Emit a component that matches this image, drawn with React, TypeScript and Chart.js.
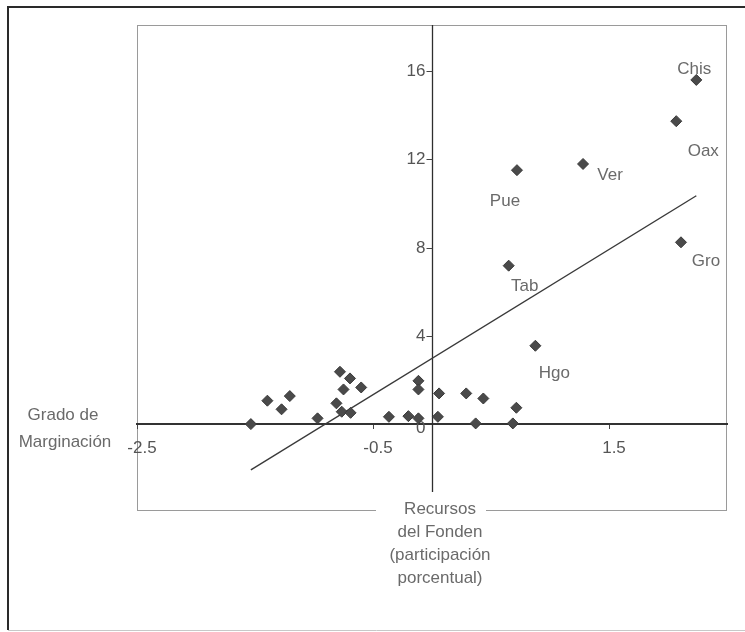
import React, { useEffect, useRef } from "react";
import { Chart, registerables } from "chart.js";

Chart.register(...registerables);

// ---- data ----
const stateNames = [
  "Chis", "Oax", "Gro", "Ver", "Pue", "Tab", "Hgo",
  "", "", "", "", "", "", "", "", "", "", "", "", "", "", "", "", "", "", "", "", "", "", "", "", "",
];
const marginacion = [
  2.24, 2.07, 2.11, 1.28, 0.72, 0.65, 0.876,
  -1.535, -1.395, -1.275, -1.205, -0.97, -0.81, -0.78, -0.695, -0.75, -0.60, -0.765, -0.69,
  -0.365, -0.20, -0.115, -0.115, -0.115, 0.06, 0.05, 0.29, 0.435, 0.37, 0.685, 0.715,
];
const recursos = [
  15.6, 13.73, 8.24, 11.79, 11.51, 7.18, 3.55,
  0.0, 1.06, 0.67, 1.27, 0.26, 0.94, 2.37, 2.07, 1.57, 1.66, 0.56, 0.51,
  0.33, 0.36, 1.96, 1.57, 0.26, 1.39, 0.33, 1.39, 1.16, 0.03, 0.03, 0.74,
];
const trendX = [-1.535, 2.24];
const trendY = [-2.08, 10.35];
const xTicks = [-2.5, -0.5, 1.5];
const yTicks = [0, 4, 8, 12, 16];
const xTitle = ["Grado de", "Marginación"];
const yTitle = ["Recursos", "del Fonden", "(participación", "porcentual)"];

// label placement offsets (px) relative to the point
const labelOffsets: Record<string, [number, number]> = {
  Chis: [-2, -11],
  Oax: [27, 30],
  Gro: [25, 19],
  Ver: [27, 11],
  Pue: [-12, 31],
  Tab: [16, 21],
  Hgo: [19, 28],
};

const FONT = "'Liberation Sans', Arial, sans-serif";

const decorPlugin = {
  id: "decor",
  beforeDraw(chart: any) {
    const { ctx, chartArea: a } = chart;
    ctx.save();
    ctx.fillStyle = "#ffffff";
    ctx.fillRect(0, 0, chart.width, chart.height);
    // outer frame
    ctx.strokeStyle = "#2a2a2a";
    ctx.lineWidth = 2;
    ctx.beginPath();
    ctx.moveTo(chart.width, 7);
    ctx.lineTo(8, 7);
    ctx.lineTo(8, 630);
    ctx.stroke();
    ctx.strokeStyle = "#c8c8c8";
    ctx.lineWidth = 1;
    ctx.beginPath();
    ctx.moveTo(8, 630.5);
    ctx.lineTo(chart.width, 630.5);
    ctx.stroke();
    // plot box
    ctx.strokeStyle = "#9a9a9a";
    ctx.lineWidth = 1;
    ctx.strokeRect(a.left + 0.5, a.top + 0.5, a.right - a.left - 1, a.bottom - a.top - 1);
    ctx.restore();
  },
  beforeDatasetsDraw(chart: any) {
    const { ctx, chartArea: a, scales } = chart;
    const x0 = Math.round(scales.x.getPixelForValue(0)) + 0.5;
    const yEnd = scales.y.getPixelForValue(-3.08);
    ctx.save();
    ctx.strokeStyle = "#2e2e2e";
    ctx.lineWidth = 1.3;
    ctx.beginPath();
    ctx.moveTo(x0, a.top);
    ctx.lineTo(x0, yEnd);
    ctx.stroke();
    // y tick marks and labels
    ctx.strokeStyle = "#444";
    ctx.lineWidth = 1;
    ctx.font = `17px ${FONT}`;
    ctx.fillStyle = "#555555";
    ctx.textAlign = "right";
    ctx.textBaseline = "middle";
    yTicks.forEach((v) => {
      const py = Math.round(scales.y.getPixelForValue(v)) + 0.5;
      if (v !== 0) {
        ctx.beginPath();
        ctx.moveTo(x0 - 6, py);
        ctx.lineTo(x0, py);
        ctx.stroke();
        ctx.fillText(String(v), x0 - 7, py);
      } else {
        ctx.fillText(String(v), x0 - 7, py + 4);
      }
    });
    ctx.restore();
  },
  afterDraw(chart: any) {
    const { ctx, scales } = chart;
    ctx.save();
    ctx.font = `17px ${FONT}`;
    ctx.fillStyle = "#6a6a6a";
    ctx.textAlign = "center";
    ctx.textBaseline = "middle";
    stateNames.forEach((name, i) => {
      if (!name) return;
      const off = labelOffsets[name] || [0, 0];
      const px = scales.x.getPixelForValue(marginacion[i]);
      const py = scales.y.getPixelForValue(recursos[i]);
      ctx.fillText(name, px + off[0], py + off[1]);
    });
    // x-axis title (left)
    ctx.fillText(xTitle[0], 63, 415);
    ctx.fillText(xTitle[1], 65, 442);
    // y-axis title (bottom)
    ctx.fillStyle = "#ffffff";
    ctx.fillRect(376, 506, 110, 10);
    ctx.fillStyle = "#6a6a6a";
    yTitle.forEach((t, i) => ctx.fillText(t, 440, 509 + i * 23));
    ctx.restore();
  },
};

export default function App() {
  const ref = useRef<HTMLCanvasElement | null>(null);
  useEffect(() => {
    document.body.style.margin = "0";
    Chart.defaults.font.family = FONT;
    const points = marginacion.map((x, i) => ({ x, y: recursos[i] }));
    const trend = trendX.map((x, i) => ({ x, y: trendY[i] }));
    const chart = new Chart(ref.current as HTMLCanvasElement, {
      type: "scatter",
      data: {
        datasets: [
          {
            label: "Entidades",
            data: points,
            pointStyle: "rectRot",
            pointRadius: 5.5,
            backgroundColor: "#4a4a4a",
            borderColor: "#3a3a3a",
            borderWidth: 1,
          },
          {
            type: "line",
            label: "Tendencia",
            data: trend,
            showLine: true,
            pointRadius: 0,
            borderColor: "#3a3a3a",
            borderWidth: 1.4,
            fill: false,
          } as any,
        ],
      },
      options: {
        animation: false,
        responsive: false,
        events: [],
        layout: { padding: { left: 137, top: 25, right: 18, bottom: 121 } },
        plugins: { legend: { display: false }, tooltip: { enabled: false } },
        scales: {
          x: {
            type: "linear",
            position: { y: 0 } as any,
            min: -2.5,
            max: 2.5,
            afterBuildTicks: (s: any) => {
              s.ticks = xTicks.map((v) => ({ value: v }));
            },
            grid: {
              display: true,
              drawOnChartArea: false,
              drawTicks: true,
              tickLength: 4,
              color: "#444",
            },
            border: { display: true, color: "#333", width: 2 },
            ticks: {
              autoSkip: false,
              maxRotation: 0,
              padding: 10,
              labelOffset: 5,
              color: "#555",
              font: { size: 17, family: FONT },
              callback: (v: any) => String(v),
            },
          },
          y: {
            type: "linear",
            position: { x: 0 } as any,
            min: -3.94,
            max: 18.09,
            afterBuildTicks: (s: any) => {
              s.ticks = yTicks.map((v) => ({ value: v }));
            },
            grid: { display: false },
            border: { display: false },
            ticks: { display: false },
          },
        },
      },
      plugins: [decorPlugin],
    });
    return () => chart.destroy();
  }, []);
  return (
    <div style={{ width: 745, height: 632 }}>
      <canvas ref={ref} width={745} height={632} />
    </div>
  );
}
